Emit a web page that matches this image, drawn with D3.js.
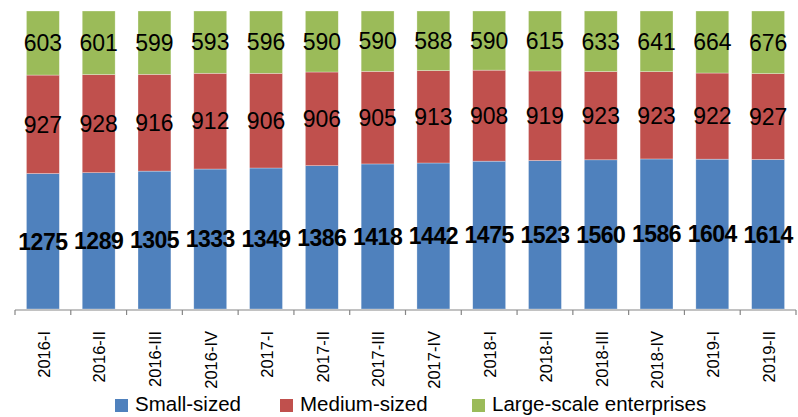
<!DOCTYPE html>
<html>
<head>
<meta charset="utf-8">
<script src="https://cdn.jsdelivr.net/npm/d3@7/dist/d3.min.js"></script>
<style>
  body { margin: 0; background: #fff; }
  text { font-family: "Liberation Sans", Arial, sans-serif; }
</style>
</head>
<body>
<div id="chart"></div>
<script>
// Quarterly counts of enterprises, shown as 100% stacked bars
const periods = ["2016-I", "2016-II", "2016-III", "2016-IV", "2017-I", "2017-II", "2017-III",
  "2017-IV", "2018-I", "2018-II", "2018-III", "2018-IV", "2019-I", "2019-II"];
const small = [1275, 1289, 1305, 1333, 1349, 1386, 1418, 1442, 1475, 1523, 1560, 1586, 1604, 1614];
const medium = [927, 928, 916, 912, 906, 906, 905, 913, 908, 919, 923, 923, 922, 927];
const large = [603, 601, 599, 593, 596, 590, 590, 588, 590, 615, 633, 641, 664, 676];

const seriesNames = ["Small-sized", "Medium-sized", "Large-scale enterprises"];
const colors = ["#4F81BD", "#C0504D", "#9BBB59"];

const width = 798, height = 417;
const margin = { top: 11, right: 2, bottom: 108, left: 15 };

const svg = d3.select("#chart").append("svg")
  .attr("width", width)
  .attr("height", height);

// build table for the stack
const table = periods.map((p, i) => ({
  period: p,
  "Small-sized": small[i],
  "Medium-sized": medium[i],
  "Large-scale enterprises": large[i]
}));

const stacked = d3.stack()
  .keys(seriesNames)
  .offset(d3.stackOffsetExpand)(table);

const x = d3.scaleBand()
  .domain(periods)
  .range([margin.left, width - margin.right])
  .paddingInner(0.41)
  .paddingOuter(0.205);

const y = d3.scaleLinear()
  .domain([0, 1])
  .range([height - margin.bottom, margin.top]);

// bars
const layers = svg.selectAll(".layer")
  .data(stacked)
  .enter().append("g")
  .attr("class", "layer")
  .attr("fill", (d, i) => colors[i]);

layers.selectAll("rect")
  .data(d => d)
  .enter().append("rect")
  .attr("x", d => x(d.data.period))
  .attr("y", d => y(d[1]))
  .attr("width", x.bandwidth())
  .attr("height", d => y(d[0]) - y(d[1]))
  .attr("stroke", "#fff")
  .attr("stroke-opacity", 0.5)
  .attr("stroke-width", 0.6);

// data labels
layers.each(function(layer, li) {
  d3.select(this).selectAll("text")
    .data(layer)
    .enter().append("text")
    .attr("x", d => x(d.data.period) + x.bandwidth() / 2)
    .attr("y", d => (y(d[0]) + y(d[1])) / 2)
    .attr("dy", "0.36em")
    .attr("text-anchor", "middle")
    .attr("fill", "#000")
    .style("font-size", "23px")
    .style("font-weight", li === 0 ? "bold" : "normal")
    .style("letter-spacing", li === 0 ? "-0.5px" : "0px")
    .text(d => d.data[layer.key]);
});

// x axis
const step = x.step();
const axisY = height - margin.bottom + 1;
const xAxis = svg.append("g")
  .attr("transform", `translate(0,${axisY})`);

xAxis.append("line")
  .attr("x1", margin.left)
  .attr("x2", width - margin.right)
  .attr("stroke", "#868686")
  .attr("stroke-width", 1.2);

const tickPos = d3.range(periods.length + 1).map(i => margin.left + i * step);
xAxis.selectAll(".tick")
  .data(tickPos)
  .enter().append("line")
  .attr("x1", d => d).attr("x2", d => d)
  .attr("y1", 0).attr("y2", 5)
  .attr("stroke", "#868686")
  .attr("stroke-width", 1.2);

xAxis.selectAll(".lbl")
  .data(periods)
  .enter().append("text")
  .attr("transform", d => `translate(${x(d) + x.bandwidth() / 2 + 1},21) rotate(-90)`)
  .attr("dy", "0.35em")
  .attr("text-anchor", "end")
  .style("font-size", "16.5px")
  .attr("fill", "#000")
  .text(d => d);

// legend
const legendItems = [
  { name: seriesNames[0], color: colors[0], x: 115 },
  { name: seriesNames[1], color: colors[1], x: 280 },
  { name: seriesNames[2], color: colors[2], x: 472 }
];
const legend = svg.append("g").attr("transform", "translate(0,405)");
legend.selectAll("rect")
  .data(legendItems)
  .enter().append("rect")
  .attr("x", d => d.x)
  .attr("y", -6)
  .attr("width", 13)
  .attr("height", 13)
  .attr("fill", d => d.color);
legend.selectAll("text")
  .data(legendItems)
  .enter().append("text")
  .attr("x", d => d.x + 20)
  .attr("y", 6)
  .style("font-size", "20.5px")
  .attr("fill", "#000")
  .text(d => d.name);
</script>
</body>
</html>
